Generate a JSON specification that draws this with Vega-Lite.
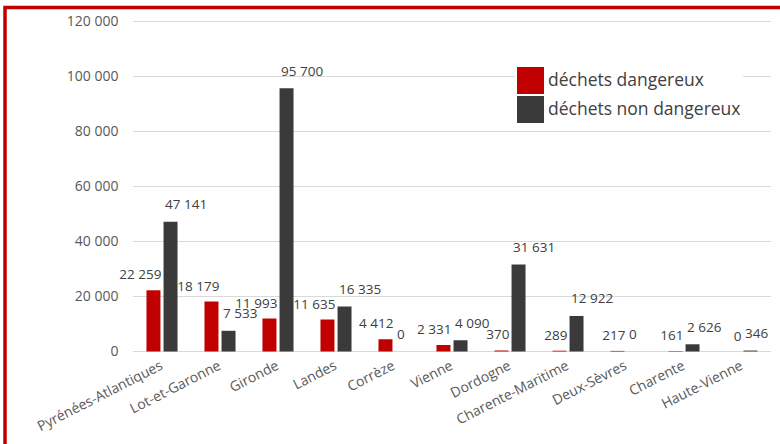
{
  "$schema": "https://vega.github.io/schema/vega-lite/v6.json",
  "width": 785,
  "height": 445,
  "autosize": {"type": "none"},
  "padding": {"left": 5, "top": 7.5, "right": -10, "bottom": -8.5},
  "background": "white",
  "config": {
    "locale": {"number": {"decimal": ",", "thousands": "\u00a0", "grouping": [3], "currency": ["", "\u00a0€"]}},
    "view": {"stroke": "#C00000", "strokeWidth": 3.5},
    "font": "Open Sans"
  },
  "datasets": {
    "waste": [
      {"departement": "Pyrénées-Atlantiques", "type": "déchets dangereux", "tonnes": 22259},
      {"departement": "Pyrénées-Atlantiques", "type": "déchets non dangereux", "tonnes": 47141},
      {"departement": "Lot-et-Garonne", "type": "déchets dangereux", "tonnes": 18179},
      {"departement": "Lot-et-Garonne", "type": "déchets non dangereux", "tonnes": 7533},
      {"departement": "Gironde", "type": "déchets dangereux", "tonnes": 11993},
      {"departement": "Gironde", "type": "déchets non dangereux", "tonnes": 95700},
      {"departement": "Landes", "type": "déchets dangereux", "tonnes": 11635},
      {"departement": "Landes", "type": "déchets non dangereux", "tonnes": 16335},
      {"departement": "Corrèze", "type": "déchets dangereux", "tonnes": 4412},
      {"departement": "Corrèze", "type": "déchets non dangereux", "tonnes": 0},
      {"departement": "Vienne", "type": "déchets dangereux", "tonnes": 2331},
      {"departement": "Vienne", "type": "déchets non dangereux", "tonnes": 4090},
      {"departement": "Dordogne", "type": "déchets dangereux", "tonnes": 370},
      {"departement": "Dordogne", "type": "déchets non dangereux", "tonnes": 31631},
      {"departement": "Charente-Maritime", "type": "déchets dangereux", "tonnes": 289},
      {"departement": "Charente-Maritime", "type": "déchets non dangereux", "tonnes": 12922},
      {"departement": "Deux-Sèvres", "type": "déchets dangereux", "tonnes": 217},
      {"departement": "Deux-Sèvres", "type": "déchets non dangereux", "tonnes": 0},
      {"departement": "Charente", "type": "déchets dangereux", "tonnes": 161},
      {"departement": "Charente", "type": "déchets non dangereux", "tonnes": 2626},
      {"departement": "Haute-Vienne", "type": "déchets dangereux", "tonnes": 0},
      {"departement": "Haute-Vienne", "type": "déchets non dangereux", "tonnes": 346}
    ],
    "ticks": [{"v": 0}, {"v": 20000}, {"v": 40000}, {"v": 60000}, {"v": 80000}, {"v": 100000}, {"v": 120000}]
  },
  "layer": [
    {
      "data": {"name": "ticks"},
      "mark": {"type": "rule", "color": "#D9D9D9", "strokeWidth": 1, "xOffset": -29, "x2Offset": 29},
      "encoding": {
        "x": {"datum": "Pyrénées-Atlantiques", "type": "nominal"},
        "x2": {"datum": "Haute-Vienne"},
        "y": {"field": "v", "type": "quantitative"}
      }
    },
    {
      "data": {"name": "waste"},
      "mark": {"type": "bar"},
      "encoding": {
        "x": {
          "field": "departement",
          "type": "nominal",
          "sort": null,
          "scale": {
            "domain": ["Pyrénées-Atlantiques", "Lot-et-Garonne", "Gironde", "Landes", "Corrèze", "Vienne", "Dordogne", "Charente-Maritime", "Deux-Sèvres", "Charente", "Haute-Vienne"],
            "range": [128, 766],
            "paddingInner": 0,
            "paddingOuter": 0
          },
          "axis": {
            "title": null,
            "orient": "bottom",
            "offset": -101,
            "domain": false,
            "ticks": false,
            "tickSize": 0,
            "grid": false,
            "labelAngle": -27,
            "labelPadding": 13,
            "labelFontSize": 14,
            "labelColor": "#595959",
            "labelFont": "Open Sans"
          }
        },
        "xOffset": {
          "field": "type",
          "type": "nominal",
          "scale": {"domain": ["déchets dangereux", "déchets non dangereux"], "paddingInner": 0.18, "paddingOuter": 0.79}
        },
        "y": {
          "field": "tonnes",
          "type": "quantitative",
          "scale": {"domain": [-36727, 125091], "nice": false, "zero": false},
          "axis": {
            "title": null,
            "values": [0, 20000, 40000, 60000, 80000, 100000, 120000],
            "format": ",d",
            "offset": -113,
            "domain": false,
            "ticks": false,
            "tickSize": 0,
            "grid": false,
            "labelPadding": 0,
            "labelFontSize": 14,
            "labelColor": "#595959",
            "labelFont": "Open Sans"
          }
        },
        "color": {
          "field": "type",
          "type": "nominal",
          "scale": {"domain": ["déchets dangereux", "déchets non dangereux"], "range": ["#C00000", "#3A3A3A"]},
          "legend": {
            "orient": "none",
            "legendX": 510,
            "legendY": 57.5,
            "title": null,
            "symbolType": "square",
            "symbolSize": 729,
            "symbolStrokeWidth": 0,
            "symbolOpacity": 1,
            "labelFontSize": 17.5,
            "labelFont": "Open Sans",
            "labelColor": "#404040",
            "labelLimit": 400,
            "fillColor": "white",
            "padding": 2,
            "rowPadding": 2,
            "labelOffset": 4
          }
        }
      }
    },
    {
      "data": {"name": "waste"},
      "transform": [{"filter": "datum.type === 'déchets dangereux'"}],
      "mark": {"type": "text", "fontSize": 13.5, "color": "#404040", "baseline": "alphabetic", "align": "right", "dx": 8, "dy": -11},
      "encoding": {
        "x": {"field": "departement", "type": "nominal", "sort": null},
        "xOffset": {"field": "type", "type": "nominal"},
        "y": {"field": "tonnes", "type": "quantitative"},
        "text": {"field": "tonnes", "type": "quantitative", "format": ",d"}
      }
    },
    {
      "data": {"name": "waste"},
      "transform": [{"filter": "datum.type === 'déchets non dangereux'"}],
      "mark": {"type": "text", "fontSize": 13.5, "color": "#404040", "baseline": "alphabetic", "align": "left", "dx": -5.5, "dy": -12.5},
      "encoding": {
        "x": {"field": "departement", "type": "nominal", "sort": null},
        "xOffset": {"field": "type", "type": "nominal"},
        "y": {"field": "tonnes", "type": "quantitative"},
        "text": {"field": "tonnes", "type": "quantitative", "format": ",d"}
      }
    }
  ]
}
